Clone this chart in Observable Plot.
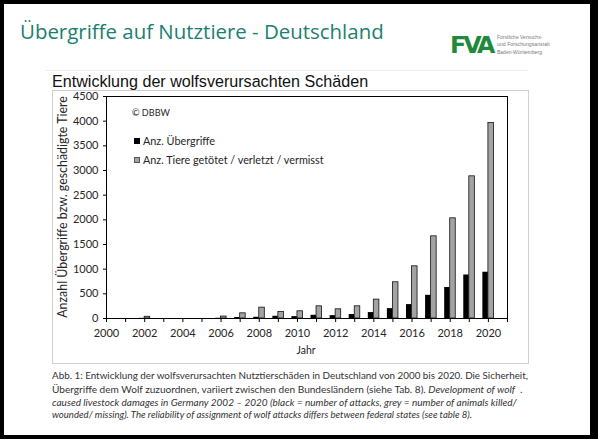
<!DOCTYPE html>
<html><head><meta charset="utf-8">
<script src="https://cdn.jsdelivr.net/npm/d3@7"></script>
<script src="https://cdn.jsdelivr.net/npm/@observablehq/plot@0.6"></script>
<style>
html,body{margin:0;padding:0;background:#fff;}
#page{position:relative;width:598px;height:439px;overflow:hidden;background:#fff;}
.abs{position:absolute;white-space:nowrap;line-height:1;}
.vc{transform:translateY(-50%);}
#frameBorder{position:absolute;left:0;top:0;width:598px;height:439px;box-sizing:border-box;border-style:solid;border-color:#000;border-width:4px 8px 4px 4px;pointer-events:none;}
#chart{position:absolute;left:0;top:0;}
.cf{font-family:Lato,"Open Sans",sans-serif;color:#262626;}
.cap{font-family:Lato,"Open Sans",sans-serif;color:#333;font-size:8px;}
.lg{font-family:'Liberation Sans',sans-serif;font-size:6px;color:#7a7a7a;}
</style></head>
<body><div id="page">
<div id="frameBorder"></div>
<div class="abs vc" id="title" data-w="364" style="left:20px;top:31px;font-family:'Open Sans',sans-serif;font-size:22px;color:#1a7f6e;">Übergriffe auf Nutztiere - Deutschland</div>
<div class="abs" style="left:46px;top:70px;width:482px;height:1px;background:#ececec;"></div>
<div class="abs vc" id="logo" data-w="42" style="left:450px;top:46px;font-family:'DejaVu Sans',sans-serif;font-weight:bold;font-size:28px;color:#1f8a3c;letter-spacing:-3px;">FVA</div>
<div class="abs vc lg" data-w="45" style="left:497px;top:37px;">Forstliche Versuchs-</div>
<div class="abs vc lg" data-w="53" style="left:497px;top:44.5px;">und Forschungsanstalt</div>
<div class="abs vc lg" data-w="45" style="left:497px;top:52px;">Baden-Württemberg</div>
<div class="abs vc" id="subtitle" data-w="316" style="left:52px;top:81px;font-family:'Liberation Sans',Arial,sans-serif;font-size:15px;color:#111;">Entwicklung der wolfsverursachten Schäden</div>
<div class="abs" style="left:52px;top:90px;width:475px;height:272px;border:1px solid #d0d0d0;"></div>
<div id="chart"></div>
<div class="abs vc cf" data-w="38" style="left:132px;top:113px;font-size:11px;">© DBBW</div>
<div class="abs" style="left:134px;top:138px;width:6px;height:6px;background:#000;"></div>
<div class="abs vc cf" data-w="72" style="left:143px;top:141px;font-size:11px;">Anz. Übergriffe</div>
<div class="abs" style="left:134px;top:157px;width:6px;height:6px;box-sizing:border-box;background:#a3a3a3;border:0.7px solid #555;"></div>
<div class="abs vc cf" data-w="181" style="left:143px;top:160px;font-size:11px;">Anz. Tiere getötet / verletzt / vermisst</div>
<div class="abs cf" data-w="19" id="jahr" style="left:306px;top:350px;font-size:11px;transform:translate(-50%,-50%);">Jahr</div>
<div class="abs cf" data-w="222" id="ytitle" style="left:63px;top:207px;font-size:11px;transform:translate(-50%,-50%) rotate(-90deg);">Anzahl Übergriffe bzw. geschädigte Tiere</div>
<div class="abs vc cap" data-w="476" style="left:52px;top:376px;">Abb. 1: Entwicklung der wolfsverursachten Nutztierschäden in Deutschland von 2000 bis 2020. Die Sicherheit,</div>
<div class="abs vc cap" data-w="470" style="left:52px;top:389px;">Übergriffe dem Wolf zuzuordnen, variiert zwischen den Bundesländern (siehe Tab. 8). <i>Development of wolf</i> &nbsp;.</div>
<div class="abs vc cap" data-w="465" style="left:52px;top:402px;"><i>caused livestock damages in Germany 2002 – 2020 (black = number of attacks, grey = number of animals killed/</i></div>
<div class="abs vc cap" data-w="420" style="left:52px;top:415px;"><i>wounded/ missing). The reliability of assignment of wolf attacks differs between federal states (see table 8).</i></div>
</div>
<script>
// ---- data ----
const years   = [2002, 2003, 2004, 2005, 2006, 2007, 2008, 2009, 2010, 2011, 2012, 2013, 2014, 2015, 2016, 2017, 2018, 2019, 2020];
const attacks = [3, 0, 0, 0, 5, 20, 25, 45, 38, 65, 58, 80, 120, 200, 282, 470, 628, 882, 938];
const animals = [35, 0, 0, 0, 40, 105, 220, 130, 146, 247, 186, 247, 383, 734, 1058, 1666, 2031, 2882, 3962];
const yTicks = [0, 500, 1000, 1500, 2000, 2500, 3000, 3500, 4000, 4500];
const xTicks = [2000, 2001, 2002, 2003, 2004, 2005, 2006, 2007, 2008, 2009, 2010, 2011, 2012, 2013, 2014, 2015, 2016, 2017, 2018, 2019, 2020, 2021];
const xLabels = [2000, 2002, 2004, 2006, 2008, 2010, 2012, 2014, 2016, 2018, 2020];

const table = years.map((year, i) => ({year, attacks: attacks[i], animals: animals[i]}));
const bw = 0.29;

const chart = Plot.plot({
  width: 598, height: 439,
  marginLeft: 106, marginRight: 91, marginTop: 96, marginBottom: 121,
  x: {type: "linear", domain: [2000, 2021]},
  y: {type: "linear", domain: [0, 4500]},
  style: {fontFamily: "Lato, 'Open Sans', sans-serif", fontSize: "11px", color: "#262626", background: "transparent", overflow: "visible"},
  marks: [
    Plot.rect(table.filter(d => d.attacks > 0), {x1: d => d.year - bw, x2: "year", y1: 0, y2: "attacks", fill: "#000"}),
    Plot.rect(table.filter(d => d.animals > 0), {x1: "year", x2: d => d.year + bw, y1: 0, y2: "animals", fill: "#a3a3a3", stroke: "#111", strokeWidth: 0.8}),
    Plot.axisY({ticks: yTicks, tickSize: 3, tickPadding: 5, tickFormat: d => String(d), label: null, stroke: "#000"}),
    Plot.axisX({ticks: xTicks, tickSize: 4, tickPadding: 7, tickFormat: d => xLabels.includes(d) ? String(d) : "", label: null, stroke: "#000"}),
    Plot.frame({stroke: "#000", strokeWidth: 1})
  ]
});
document.getElementById("chart").appendChild(chart);

function fitAll() {
  document.querySelectorAll("[data-w]").forEach(el => {
    const target = +el.dataset.w;
    const fs = parseFloat(getComputedStyle(el).fontSize);
    const w = el.scrollWidth || el.offsetWidth;
    if (w > 0) el.style.fontSize = (fs * target / w).toFixed(2) + "px";
  });
}
fitAll();
if (document.fonts && document.fonts.ready) document.fonts.ready.then(fitAll);
</script>
</body></html>
